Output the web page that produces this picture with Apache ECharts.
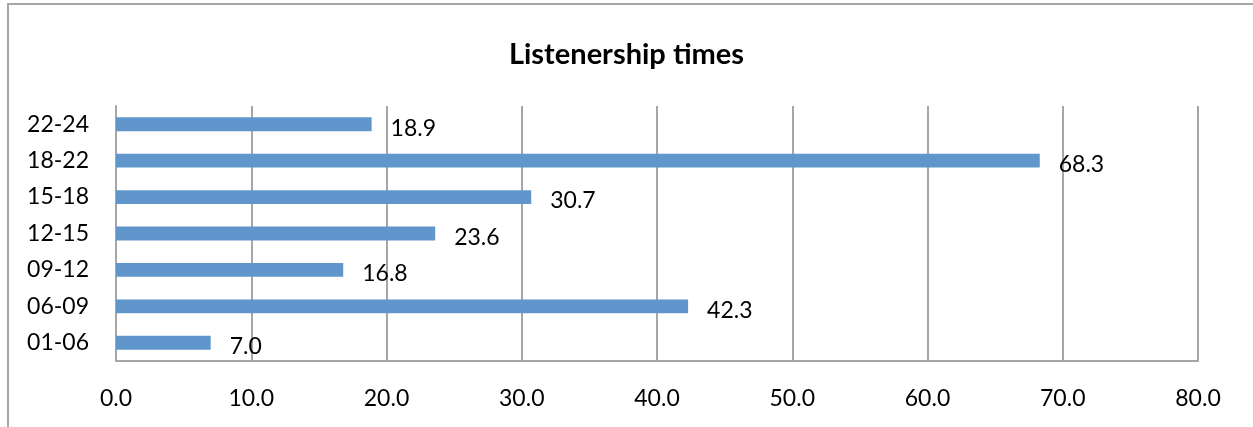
<!DOCTYPE html>
<html>
<head>
<meta charset="utf-8">
<script src="https://cdn.jsdelivr.net/npm/echarts@6/dist/echarts.min.js"></script>
<style>
  html, body { margin: 0; padding: 0; background: #fff; }
  #chart { width: 1253px; height: 427px; }
</style>
</head>
<body>
<div id="chart"></div>
<script>
// hour slots, bottom to top
const slots = ['01-06', '06-09', '09-12', '12-15', '15-18', '18-22', '22-24'];
const listeners = [7.0, 42.3, 16.8, 23.6, 30.7, 68.3, 18.9];
const xTicks = [0, 10, 20, 30, 40, 50, 60, 70, 80];

const chart = echarts.init(document.getElementById('chart'));
const font = 'Lato, "Open Sans", sans-serif';

const option = {
  animation: false,
  title: {
    text: 'Listenership times',
    left: 'center',
    top: 35,
    textStyle: { fontFamily: font, fontSize: 29, fontWeight: 'bold', color: '#000' }
  },
  // outer frame of the chart area
  graphic: [{
    type: 'rect',
    shape: { x: 8, y: 4, width: 1260, height: 440 },
    style: { fill: 'none', stroke: '#a6a6a6', lineWidth: 2 }
  }],
  grid: { left: 116, right: 55, top: 106, bottom: 66 },
  xAxis: {
    type: 'value',
    min: xTicks[0],
    max: xTicks[xTicks.length - 1],
    interval: 10,
    axisLine: { show: true, lineStyle: { color: '#a6a6a6', width: 2 } },
    axisTick: { show: false },
    axisLabel: {
      margin: 26,
      color: '#000',
      fontFamily: font,
      fontSize: 23,
      formatter: v => v.toFixed(1)
    },
    splitLine: { show: true, lineStyle: { color: '#a6a6a6', width: 2 } }
  },
  yAxis: {
    type: 'category',
    data: slots,
    axisLine: { show: true, lineStyle: { color: '#a6a6a6', width: 2 } },
    axisTick: { show: false },
    axisLabel: { margin: 27, color: '#000', fontFamily: font, fontSize: 23 }
  },
  series: [{
    type: 'bar',
    data: listeners,
    barWidth: '38%',
    itemStyle: { color: '#6096cc' },
    label: {
      show: true,
      position: 'right',
      distance: 19,
      offset: [0, 4],
      color: '#000',
      fontFamily: font,
      fontSize: 23,
      formatter: p => p.value.toFixed(1)
    }
  }]
};
chart.setOption(option);
</script>
</body>
</html>
